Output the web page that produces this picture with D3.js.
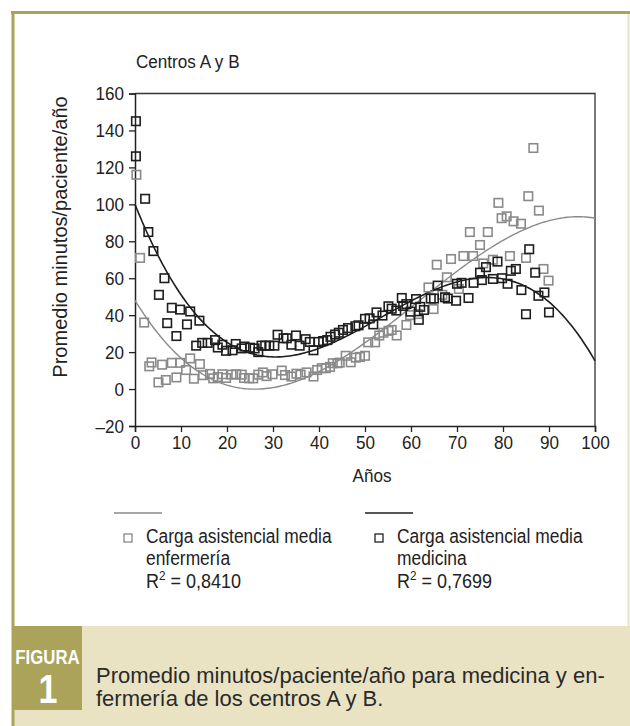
<!DOCTYPE html>
<html>
<head>
<meta charset="utf-8">
<script src="https://cdn.jsdelivr.net/npm/d3@7"></script>
<style>
  body { margin: 0; background: #fff; }
  svg { display: block; font-family: "Liberation Sans", Arial, sans-serif; }
</style>
</head>
<body>
<div id="chart"></div>
<script>
// ---- datos ----
const medAges = [0.2, 0.2, 2.2, 2.9, 4, 5.2, 6.4, 7, 8, 9, 9.8, 11.3, 12, 13.3, 14, 14.6, 15.8, 17.4, 18, 19,
  19.8, 21.2, 21.9, 23.2, 23.8, 25, 26, 26.8, 27.5, 28.3, 29.2, 30.3, 31, 32.3, 33, 34, 35, 35.8, 37.1, 38,
  38.8, 39.9, 40.9, 41.8, 42.5, 43.5, 44.3, 45.2, 46.3, 47.9, 48.6, 50, 51, 51.8, 52.5, 53.8, 55.1, 55.8, 56.8, 58,
  58.3, 59, 59.9, 61.1, 61.7, 62, 62.8, 64.3, 65, 65.8, 67.4, 68, 69.8, 70, 71, 72.5, 73.6, 75, 75.4, 76.3,
  77.8, 78.8, 79.8, 81, 81.7, 82.8, 84, 85, 85.7, 87, 87.7, 89, 90];
const medVals = [145, 126, 103, 85, 74.7, 51, 60, 35.7, 44, 28.7, 43, 35, 42, 23.5, 37, 25, 25, 26.5, 22.5, 24,
  20.7, 21, 24.4, 22, 23, 22.4, 22, 20, 23.5, 23.5, 23.5, 23.5, 29.4, 27.5, 27.5, 24, 29, 23.5, 27, 25.5,
  21, 25.5, 26, 26.5, 28.3, 29.5, 30.5, 32, 33, 34, 34.5, 38, 38.3, 35, 41.5, 39.8, 44.8, 43.5, 42.5, 49.3,
  45, 46, 41.9, 48.7, 37.5, 44.5, 42.8, 49, 49, 56, 49.7, 49, 47.8, 57, 57.5, 49.3, 57.5, 63, 59, 66,
  59.6, 69, 60, 57, 64, 65, 53.6, 40.5, 75.7, 63, 50.5, 52.3, 41.5];

const enfAges = [0.3, 1.1, 2, 3.1, 3.6, 5.1, 5.9, 6.7, 8, 9, 9.8, 11.1, 12, 12.8, 14.1, 14.8, 16.3, 17, 18, 19,
  19.8, 21, 22, 23.2, 23.7, 24.8, 25.7, 26.8, 27.8, 28.6, 29.9, 31.9, 32.6, 34, 35.1, 36, 37.3, 38.8, 39.6, 40.6,
  41.5, 42.4, 43, 44, 44.5, 45.8, 46.9, 48, 48.9, 50, 50.7, 52.2, 53.1, 54, 55.1, 55.8, 56.9, 59, 59.8, 61.5,
  63.8, 64.9, 65.6, 66.8, 67.8, 68.7, 70.4, 71.4, 72.8, 73.5, 75, 75.7, 76.7, 77.8, 79, 79.7, 80.8, 81.5, 82.3, 83.9,
  85, 85.5, 86.6, 87.8, 88.8, 89.9];
const enfVals = [116, 71, 36, 12.3, 14.4, 3.6, 13.2, 4.9, 14.2, 6.3, 14.2, 10.3, 16.6, 5.6, 13.5, 7.5, 8.2, 5.8, 6.5, 8,
  6, 7.8, 8, 7.8, 6, 5.8, 5.8, 7.8, 9, 7, 8, 10, 7.6, 6.8, 8.3, 7.8, 9, 6.8, 10.3, 11.3,
  11.3, 12, 14, 14, 14.3, 18, 14.5, 17, 17.4, 18, 25.3, 25.3, 29, 30.5, 31.5, 32, 29, 34.7, 40, 40.6,
  55, 43.3, 67.3, 51, 60.5, 70.4, 54.2, 72, 85, 72, 78, 68, 85, 70, 100.8, 92.5, 93.5, 72, 90.8, 89.5,
  71, 104.4, 130.5, 96.6, 65, 58.7];

// ajuste cúbico (en décadas: x/10)
const medCoef = [100, -62.3, 14.25, -0.8867];
const enfCoef = [48, -40.53, 9.878, -0.538];

const yTicks = [-20, 0, 20, 40, 60, 80, 100, 120, 140, 160];
const xTicks = [0, 10, 20, 30, 40, 50, 60, 70, 80, 90, 100];

const W = 630, H = 726;
const olive = "#aca35b", beige = "#e9e3c4";
const cMed = "#1e1e1e", cEnf = "#8a8a8a";
const SX = 0.9; // letra condensada

const svg = d3.select("#chart").append("svg").attr("width", W).attr("height", H);

// texto estrecho: escala horizontal
function ntext(x0, y0, size, sx) {
  return svg.append("text")
    .attr("transform", `translate(${x0},${y0}) scale(${sx},1)`)
    .attr("font-size", size).attr("fill", "#222");
}

// marco
svg.append("rect").attr("x", 12).attr("y", 626).attr("width", W - 12).attr("height", H - 626).attr("fill", beige);
svg.append("line").attr("x1", 628.5).attr("x2", 628.5).attr("y1", 12).attr("y2", 626).attr("stroke", beige).attr("stroke-width", 2);
svg.append("line").attr("x1", 11).attr("x2", W).attr("y1", 12.5).attr("y2", 12.5).attr("stroke", olive).attr("stroke-width", 3);
svg.append("line").attr("x1", 13).attr("x2", 13).attr("y1", 11).attr("y2", H).attr("stroke", olive).attr("stroke-width", 3);
svg.append("rect").attr("x", 13).attr("y", 626).attr("width", 69).attr("height", 84).attr("fill", olive);
ntext(47.5, 664, 21, 0.8).attr("text-anchor", "middle").attr("fill", "#fff").attr("font-weight", "bold").text("FIGURA");
ntext(48, 703, 40, 0.85).attr("text-anchor", "middle").attr("fill", "#fff").attr("font-weight", "bold").text("1");
const cap = svg.append("text").attr("font-size", 22).attr("fill", "#2a2a2a");
cap.append("tspan").attr("x", 96).attr("y", 683).text("Promedio minutos/paciente/año para medicina y en-");
cap.append("tspan").attr("x", 96).attr("y", 706).text("fermería de los centros A y B.");

// gráfico
const x = d3.scaleLinear().domain([0, 100]).range([135, 595]);
const y = d3.scaleLinear().domain([-20, 160]).range([426, 93.5]);

ntext(136, 68, 19, SX).text("Centros A y B");

// caja superior/derecha
svg.append("path").attr("d", `M${x(0)},${y(160)}H${x(100)}V${y(-20)}`)
  .attr("fill", "none").attr("stroke", "#333").attr("stroke-width", 1.3);

const yAxis = svg.append("g").attr("transform", `translate(${x(0)},0)`)
  .call(d3.axisLeft(y).tickValues(yTicks).tickSize(6).tickPadding(5)
    .tickFormat(d => d < 0 ? "\u2013" + Math.abs(d) : d));
const xAxis = svg.append("g").attr("transform", `translate(0,${y(-20)})`)
  .call(d3.axisBottom(x).tickValues(xTicks).tickSize(6).tickPadding(4));
[yAxis, xAxis].forEach(g => {
  g.select(".domain").attr("stroke", "#222").attr("stroke-width", 1.5);
  g.selectAll(".tick line").attr("stroke", "#222").attr("stroke-width", 1.3);
  g.selectAll(".tick text").attr("font-size", 19).attr("fill", "#222")
    .attr("font-family", "\"Liberation Sans\", Arial, sans-serif")
    .attr("transform", `scale(${SX},1)`);
});
yAxis.selectAll(".tick text").attr("x", -11 / SX);

ntext(372, 482, 19, SX).attr("text-anchor", "middle").text("Años");
svg.append("text").attr("transform", `translate(67,237) rotate(-90)`)
  .attr("text-anchor", "middle").attr("font-size", 20).attr("fill", "#222").text("Promedio minutos/paciente/año");

// curvas de ajuste
const poly = c => a => { const u = a / 10; return c[0] + c[1] * u + c[2] * u * u + c[3] * u * u * u; };
const grid = d3.range(0, 100.01, 0.5);
const line = f => d3.line().x(a => x(a)).y(a => y(f(a)));
svg.append("path").attr("d", line(poly(enfCoef))(grid)).attr("fill", "none").attr("stroke", cEnf).attr("stroke-width", 1.4);
svg.append("path").attr("d", line(poly(medCoef))(grid)).attr("fill", "none").attr("stroke", cMed).attr("stroke-width", 1.6);

// puntos
const S = 8.5;
function squares(ages, vals, color) {
  svg.append("g").selectAll("rect").data(ages).join("rect")
    .attr("x", (a) => x(a) - S / 2)
    .attr("y", (a, i) => y(vals[i]) - S / 2)
    .attr("width", S).attr("height", S)
    .attr("fill", "none").attr("stroke", color).attr("stroke-width", 1.6);
}
squares(enfAges, enfVals, cEnf);
squares(medAges, medVals, cMed);

// leyenda
const legend = [
  { color: cEnf, lx: 114, tx: 146, lines: ["Carga asistencial media", "enfermería"], r2: "0,8410" },
  { color: cMed, lx: 365, tx: 397, lines: ["Carga asistencial media", "medicina"], r2: "0,7699" }
];
legend.forEach(l => {
  svg.append("line").attr("x1", l.lx).attr("x2", l.lx + 48).attr("y1", 513).attr("y2", 513)
    .attr("stroke", l.color).attr("stroke-width", 1.6);
  svg.append("rect").attr("x", l.tx - 22).attr("y", 534).attr("width", 8).attr("height", 8)
    .attr("fill", "none").attr("stroke", l.color === cEnf ? "#888" : "#222").attr("stroke-width", 1.3);
  const t = ntext(l.tx, 543, 20, 0.87);
  l.lines.forEach((s, i) => t.append("tspan").attr("x", 0).attr("y", i * 22.5).text(s));
  const r = ntext(l.tx, 588, 20, SX);
  r.append("tspan").text("R");
  r.append("tspan").attr("font-size", 13).attr("dy", -8).text("2");
  r.append("tspan").attr("dy", 8).text(" = " + l.r2);
});
</script>
</body>
</html>
